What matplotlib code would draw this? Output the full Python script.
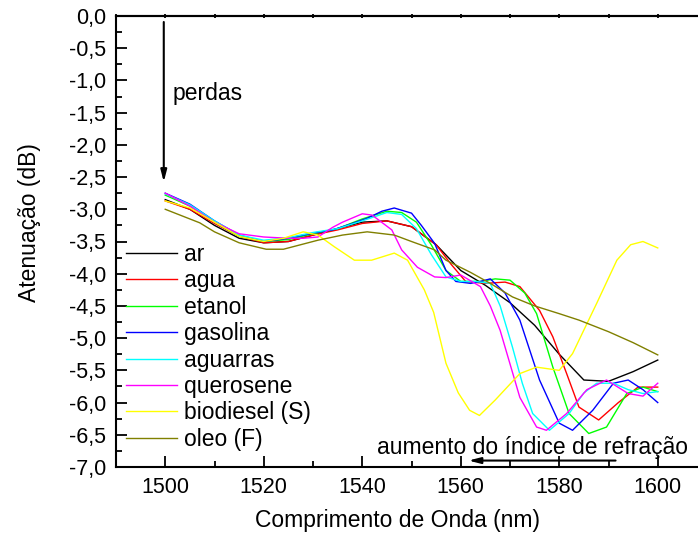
import matplotlib
matplotlib.use("Agg")
import matplotlib.pyplot as plt
from matplotlib.ticker import MultipleLocator, FuncFormatter

plt.rcParams['font.family'] = ['Liberation Sans', 'DejaVu Sans']

# wavelength (nm) / attenuation (dB)
ar_x = [1500, 1505, 1510, 1515, 1520, 1525, 1530, 1535, 1540, 1545, 1550, 1555, 1560, 1565,
        1570, 1575, 1580, 1585, 1590, 1595, 1600]
ar_y = [-2.85, -3.0, -3.25, -3.45, -3.52, -3.5, -3.4, -3.3, -3.2, -3.18, -3.27, -3.55, -3.95, -4.18,
        -4.45, -4.8, -5.25, -5.65, -5.67, -5.52, -5.34]

agua_x = [1500, 1505, 1510, 1515, 1520, 1525, 1530, 1535, 1540, 1545, 1550, 1555, 1558, 1561,
          1565, 1569, 1572, 1576, 1578.7, 1581.5, 1584, 1588, 1592, 1596, 1600]
agua_y = [-2.87, -3.0, -3.22, -3.42, -3.52, -3.5, -3.4, -3.32, -3.22, -3.18, -3.27, -3.55, -3.85, -4.12,
          -4.15, -4.13, -4.2, -4.57, -4.98, -5.55, -6.07, -6.27, -6.0, -5.76, -5.76]

etanol_x = [1500, 1505, 1510, 1515, 1520, 1525, 1530, 1535, 1540, 1545, 1548, 1551, 1554, 1557,
            1560, 1564, 1567, 1570, 1573, 1575.4, 1578.7, 1582, 1586, 1589.6, 1593.7, 1597, 1600]
etanol_y = [-2.78, -2.95, -3.2, -3.42, -3.5, -3.47, -3.38, -3.3, -3.15, -3.03, -3.05, -3.2, -3.55, -3.95,
            -4.12, -4.12, -4.08, -4.1, -4.3, -4.62, -5.45, -6.17, -6.48, -6.38, -5.86, -5.76, -5.83]

gasolina_x = [1500, 1505, 1510, 1515, 1520, 1525, 1530, 1534, 1538, 1541, 1544, 1546.5, 1550, 1552,
              1554.7, 1557, 1559, 1562, 1564, 1566, 1569, 1572, 1576, 1580, 1582.7, 1586.8, 1591,
              1594, 1597, 1600]
gasolina_y = [-2.75, -2.92, -3.18, -3.4, -3.5, -3.45, -3.37, -3.32, -3.22, -3.14, -3.03, -2.98, -3.06, -3.25,
              -3.53, -3.95, -4.12, -4.15, -4.12, -4.08, -4.3, -4.72, -5.65, -6.32, -6.43, -6.12, -5.7,
              -5.65, -5.8, -6.0]

aguarras_x = [1500, 1505, 1510, 1515, 1520, 1525, 1530, 1535, 1540, 1545, 1548, 1551, 1554, 1557,
              1560, 1563, 1566, 1568, 1570.5, 1572.5, 1574.6, 1578, 1582, 1585, 1587.6, 1591, 1594,
              1597, 1600]
aguarras_y = [-2.76, -2.93, -3.18, -3.4, -3.48, -3.44, -3.36, -3.3, -3.18, -3.05, -3.08, -3.3, -3.7, -4.05,
              -4.12, -4.12, -4.15, -4.5, -5.14, -5.7, -6.17, -6.43, -6.17, -5.85, -5.7, -5.7, -5.8,
              -5.86, -5.83]

querosene_x = [1500, 1505, 1510, 1515, 1520, 1525, 1528, 1531, 1534, 1536, 1540, 1542, 1546, 1548,
               1551.2, 1554.7, 1557, 1560, 1564, 1566, 1568, 1572, 1575.4, 1577.4, 1581.5, 1585.6,
               1589.6, 1594, 1597, 1600]
querosene_y = [-2.75, -2.95, -3.2, -3.38, -3.43, -3.45, -3.45, -3.43, -3.28, -3.2, -3.07, -3.09, -3.32, -3.63,
               -3.9, -4.05, -4.06, -4.02, -4.2, -4.5, -4.88, -5.92, -6.38, -6.43, -6.17, -5.8,
               -5.65, -5.86, -5.9, -5.7]

biodiesel_x = [1500, 1505, 1510, 1515, 1520, 1524, 1528, 1531, 1534.3, 1538.4, 1541.9, 1544, 1546.5,
               1549.2, 1552.6, 1554.5, 1557, 1559.5, 1561.8, 1563.8, 1567, 1572, 1575.4, 1580, 1582.7,
               1587.6, 1591.7, 1594.5, 1597, 1600]
biodiesel_y = [-2.87, -2.98, -3.2, -3.42, -3.5, -3.45, -3.35, -3.4, -3.58, -3.79, -3.79, -3.74, -3.68,
               -3.79, -4.25, -4.6, -5.39, -5.85, -6.12, -6.2, -5.96, -5.55, -5.45, -5.5, -5.24,
               -4.46, -3.79, -3.55, -3.5, -3.6]

oleo_x = [1500, 1505, 1507, 1510, 1515, 1520.5, 1524, 1531, 1536, 1541, 1546.5, 1550, 1554.7, 1557,
          1562, 1566, 1570.5, 1575, 1580, 1584, 1590, 1595, 1600]
oleo_y = [-3.0, -3.15, -3.21, -3.35, -3.52, -3.62, -3.62, -3.48, -3.4, -3.35, -3.4, -3.5, -3.63, -3.79,
          -3.98, -4.15, -4.36, -4.5, -4.62, -4.72, -4.9, -5.07, -5.26]

series = [
    (ar_x, ar_y, 'ar', 'black'),
    (agua_x, agua_y, 'agua', 'red'),
    (etanol_x, etanol_y, 'etanol', '#00ff00'),
    (gasolina_x, gasolina_y, 'gasolina', '#0000ff'),
    (aguarras_x, aguarras_y, 'aguarras', '#00ffff'),
    (querosene_x, querosene_y, 'querosene', '#ff00ff'),
    (biodiesel_x, biodiesel_y, 'biodiesel (S)', '#ffff00'),
    (oleo_x, oleo_y, 'oleo (F)', '#808000'),
]

fig = plt.figure(figsize=(6.98, 5.37), dpi=100)
ax = fig.add_axes([116 / 698, 70 / 537, 591 / 698, 451 / 537])

for x, y, label, color in series:
    ax.plot(x, y, color=color, lw=1.0, label=label)

ax.set_xlim(1490, 1610)
ax.set_ylim(-7.0, 0.0)

ax.xaxis.set_major_locator(MultipleLocator(20))
ax.xaxis.set_minor_locator(MultipleLocator(10))
ax.yaxis.set_major_locator(MultipleLocator(0.5))
ax.yaxis.set_minor_locator(MultipleLocator(0.25))
ax.yaxis.set_major_formatter(FuncFormatter(lambda v, p: ('%.1f' % v).replace('.', ',').replace('-0,0', '0,0')))

ax.tick_params(which='both', direction='in', labelsize=15.5, width=1.3)
ax.tick_params(which='major', length=8)
ax.tick_params(which='minor', length=4.5)
ax.tick_params(axis='y', pad=7)
ax.tick_params(axis='x', pad=7)

top = ax.secondary_xaxis('top')
top.xaxis.set_major_locator(MultipleLocator(10))
top.tick_params(direction='inout', length=3, width=1.3, labeltop=False)

for s in ['left', 'bottom', 'top', 'right']:
    ax.spines[s].set_linewidth(1.5)
top.spines['top'].set_linewidth(1.5)

ax.set_xlabel('Comprimento de Onda (nm)', fontsize=16.5)
ax.set_ylabel('Atenuação (dB)', fontsize=16.5)
ax.xaxis.set_label_coords(0.4755, -0.093)
ax.yaxis.set_label_coords(-0.127, 0.543)

ax.legend(loc='upper left', bbox_to_anchor=(0.0, 0.52), frameon=False, fontsize=16.5,
          handlelength=2.2, handletextpad=0.3, labelspacing=0.15, borderpad=0.2, borderaxespad=0.25)

ax.annotate('', xy=(1499.7, -2.62), xytext=(1499.7, -0.05),
            arrowprops=dict(arrowstyle='-|>,head_length=0.7,head_width=0.18', color='black', lw=1.5))
ax.text(1501.5, -1.2, 'perdas', fontsize=16.5, va='center', ha='left')

ax.annotate('', xy=(1561, -6.9), xytext=(1592, -6.9),
            arrowprops=dict(arrowstyle='-|>,head_length=0.7,head_width=0.18', color='black', lw=1.5))
ax.text(1543, -6.7, 'aumento do índice de refração', fontsize=16.5, va='center', ha='left')

fig.savefig('out.png', dpi=100)
